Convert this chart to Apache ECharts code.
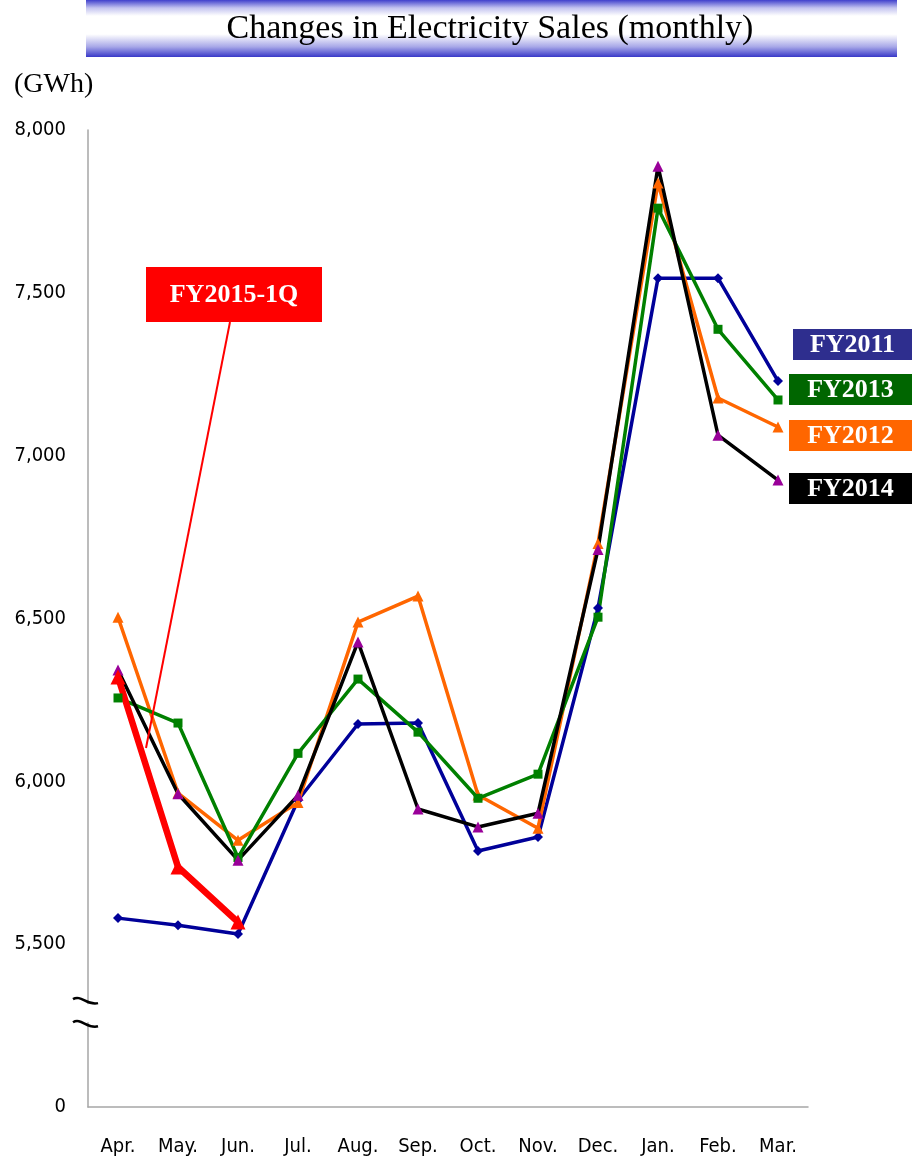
<!DOCTYPE html>
<html>
<head>
<meta charset="utf-8">
<title>Changes in Electricity Sales (monthly)</title>
<script src="https://cdn.jsdelivr.net/npm/echarts@6/dist/echarts.min.js"></script>
<style>
  html, body { margin: 0; padding: 0; background: #fff; }
  #chart { width: 912px; height: 1162px; }
</style>
</head>
<body>
<div id="chart"></div>
<script>
// monthly sales, GWh
var months = ['Apr.', 'May.', 'Jun.', 'Jul.', 'Aug.', 'Sep.', 'Oct.', 'Nov.', 'Dec.', 'Jan.', 'Feb.', 'Mar.'];
var fy2011 = [5580, 5558, 5531, 5942, 6176, 6179, 5786, 5829, 6532, 7545, 7545, 7229];
var fy2012 = [6504, 5964, 5819, 5935, 6489, 6569, 5958, 5856, 6730, 7837, 7177, 7088];
var fy2013 = [6256, 6179, 5766, 6086, 6314, 6151, 5948, 6022, 6504, 7760, 7388, 7171];
var fy2014 = [6342, 5962, 5758, 5957, 6428, 5915, 5860, 5902, 6712, 7889, 7063, 6925];
var fy2015 = [6320, 5737, 5568];
var yTicks = [5000, 5500, 6000, 6500, 7000, 7500, 8000];
var breakMarks = [5325, 5254];

var tickFont = '"Liberation Sans Narrow", "DejaVu Sans Condensed", "Arial Narrow", sans-serif';
var serif = '"Liberation Serif", "Times New Roman", serif';

var chart = echarts.init(document.getElementById('chart'));

function line(name, data, color, symbol, size, width, markColor) {
  return {
    name: name,
    type: 'line',
    data: data,
    symbol: symbol,
    symbolSize: size,
    showAllSymbol: true,
    lineStyle: { color: color, width: width },
    itemStyle: { color: markColor || color },
    emphasis: { disabled: true },
    z: 3
  };
}

function tag(text, x, y, w, h, color) {
  return {
    type: 'group',
    children: [
      { type: 'rect', shape: { x: x, y: y, width: w, height: h }, style: { fill: color } },
      {
        type: 'text', x: x + w / 2, y: y + h / 2 + 1,
        style: { text: text, fill: '#fff', font: 'bold 26px ' + serif, align: 'center', verticalAlign: 'middle' }
      }
    ]
  };
}

var option = {
  animation: false,
  grid: { left: 88, right: 104, top: 130, bottom: 55 },
  xAxis: {
    type: 'category',
    data: months,
    boundaryGap: true,
    axisLine: { lineStyle: { color: '#a6a6a6', width: 1.5 } },
    axisTick: { show: false },
    axisLabel: { color: '#000', fontFamily: tickFont, fontSize: 20, margin: 30, interval: 0 }
  },
  yAxis: {
    type: 'value',
    min: yTicks[0],
    max: yTicks[yTicks.length - 1],
    interval: 500,
    axisLine: { show: true, lineStyle: { color: '#a6a6a6', width: 1.5 } },
    axisTick: { show: false },
    splitLine: { show: false },
    axisLabel: {
      color: '#000', fontFamily: tickFont, fontSize: 20, margin: 22,
      formatter: function (v) {
        if (v === yTicks[0]) return '0';
        return v.toLocaleString('en-US');
      }
    }
  },
  series: [
    line('FY2011', fy2011, '#000099', 'diamond', 10, 3.5),
    line('FY2012', fy2012, '#ff6600', 'triangle', 11, 3.5),
    line('FY2013', fy2013, '#008000', 'rect', 9, 3.5),
    line('FY2014', fy2014, '#000000', 'triangle', 11, 3.5, '#990099'),
    line('FY2015-1Q', fy2015, '#ff0000', 'triangle', 15, 6.5)
  ]
};
chart.setOption(option);

// title banner, labels and the axis break marks
var gfx = [
  {
    type: 'rect', shape: { x: 86, y: 0, width: 811, height: 57 }, z: 0,
    style: {
      fill: new echarts.graphic.LinearGradient(0, 0, 0, 1, [
        { offset: 0, color: '#4040cc' },
        { offset: 0.14, color: '#c4c4f0' },
        { offset: 0.28, color: '#ffffff' },
        { offset: 0.6, color: '#ffffff' },
        { offset: 0.82, color: '#a8a8e8' },
        { offset: 1, color: '#3838c8' }
      ])
    }
  },
  {
    type: 'text', x: 490, y: 29,
    style: { text: 'Changes in Electricity Sales (monthly)', fill: '#000', font: '34px ' + serif, align: 'center', verticalAlign: 'middle' }
  },
  {
    type: 'text', x: 14, y: 85,
    style: { text: '(GWh)', fill: '#000', font: '28px ' + serif, align: 'left', verticalAlign: 'middle' }
  },
  tag('FY2011', 793, 329, 119, 31, '#2e2e8e'),
  tag('FY2013', 789, 374, 123, 31, '#006600'),
  tag('FY2012', 789, 420, 123, 31, '#ff6600'),
  tag('FY2014', 789, 473, 123, 31, '#000000'),
  tag('FY2015-1Q', 146, 267, 176, 55, '#ff0000'),
  {
    type: 'line', shape: { x1: 230, y1: 322, x2: 146, y2: 748 },
    style: { stroke: '#ff0000', lineWidth: 2 }, z: 5
  }
];

var ax = chart.convertToPixel({ xAxisIndex: 0 }, months[0]) - 30;
var b1 = chart.convertToPixel({ yAxisIndex: 0 }, breakMarks[0]);
var b2 = chart.convertToPixel({ yAxisIndex: 0 }, breakMarks[1]);
gfx.push({
  type: 'rect', shape: { x: ax - 4, y: b1 + 3, width: 8, height: b2 - b1 - 5 },
  style: { fill: '#fff' }, z: 10
});
[b1, b2].forEach(function (by) {
  gfx.push({
    type: 'bezierCurve',
    shape: { x1: ax - 15, y1: by - 2, cpx1: ax - 7, cpy1: by - 7, cpx2: ax - 1, cpy2: by + 5, x2: ax + 10, y2: by + 2 },
    style: { stroke: '#000', lineWidth: 2.5, fill: null }, z: 11
  });
});

chart.setOption({ graphic: gfx });
</script>
</body>
</html>
